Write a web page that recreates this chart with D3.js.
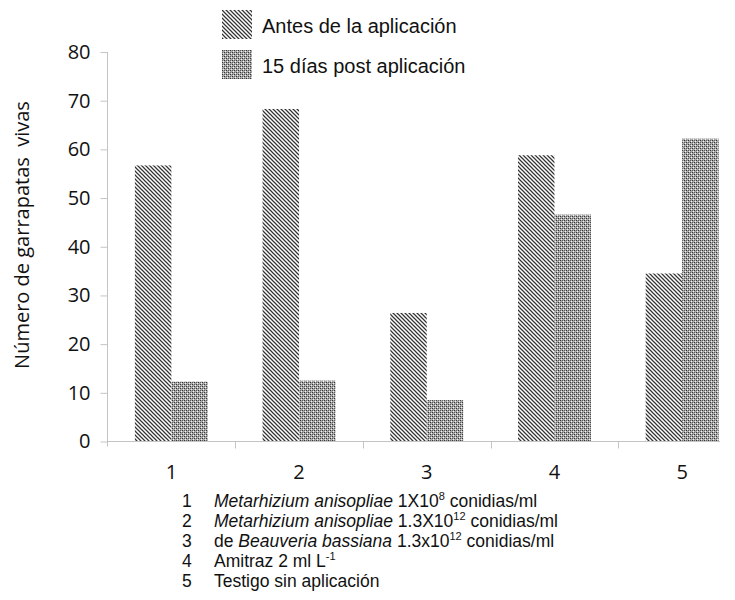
<!DOCTYPE html>
<html><head><meta charset="utf-8">
<script src="https://cdn.jsdelivr.net/npm/d3@7"></script>
<style>html,body{margin:0;padding:0;background:#fff;}svg{display:block;}</style>
</head><body>
<svg id="c" width="735" height="600"></svg>
<script>
const categories = ["1","2","3","4","5"];
const seriesNames = ["Antes de la aplicación","15 días post aplicación"];
const antes = [56.7, 68.3, 26.4, 58.8, 34.5];
const post15 = [12.3, 12.5, 8.5, 46.6, 62.2];
const yTicks = [0,10,20,30,40,50,60,70,80];
const yTitle = "Número de garrapatas  vivas";
const notes = [
  {n:"1", parts:[{t:"Metarhizium anisopliae",i:true},{t:" 1X10"},{t:"8",s:true},{t:" conidias/ml"}]},
  {n:"2", parts:[{t:"Metarhizium anisopliae",i:true},{t:" 1.3X10"},{t:"12",s:true},{t:" conidias/ml"}]},
  {n:"3", parts:[{t:"de "},{t:"Beauveria bassiana",i:true},{t:" 1.3x10"},{t:"12",s:true},{t:" conidias/ml"}]},
  {n:"4", parts:[{t:"Amitraz 2 ml L"},{t:"-1",s:true}]},
  {n:"5", parts:[{t:"Testigo sin aplicación"}]}
];

const svg = d3.select("#c");
const defs = svg.append("defs");
// hatch pattern
const ph = defs.append("pattern").attr("id","hatch").attr("patternUnits","userSpaceOnUse")
  .attr("width",4).attr("height",4);
ph.append("rect").attr("width",4).attr("height",4).attr("fill","#fff");
ph.append("path").attr("d","M-1,-1L5,5M3,-1L5,1M-1,3L1,5").attr("stroke","#333").attr("stroke-width",1.25);
// dotted pattern
const pd = defs.append("pattern").attr("id","dots").attr("patternUnits","userSpaceOnUse")
  .attr("width",4).attr("height",4);
pd.append("rect").attr("width",4).attr("height",4).attr("fill","#a9a9a9");
[[0,0],[2,2],[1,3],[3,1]].forEach((p,k)=>{
  pd.append("rect").attr("x",p[0]).attr("y",p[1]).attr("width",1).attr("height",1)
    .attr("fill", k<2 ? "#333" : "#f2f2f2");
});
pd.append("rect").attr("x",2).attr("y",0).attr("width",1).attr("height",1).attr("fill","#5e5e5e");
pd.append("rect").attr("x",0).attr("y",2).attr("width",1).attr("height",1).attr("fill","#5e5e5e");
const fills = ["url(#hatch)","url(#dots)"];

const x0 = d3.scaleBand().domain(categories).range([107.5, 746]).paddingInner(0).paddingOuter(0);
const x1 = d3.scaleBand().domain(seriesNames).range([0, x0.bandwidth()]).paddingInner(0).paddingOuter(0.75);
const y = d3.scaleLinear().domain([0,80]).range([441.5, 52]);

const data = categories.map((c,i)=>({c, vals:[antes[i], post15[i]]}));
const axisColor = "#c4c4c4";

// bars
const g = svg.append("g");
data.forEach(d=>{
  d.vals.forEach((v,k)=>{
    g.append("rect")
      .attr("x", x0(d.c)+x1(seriesNames[k]))
      .attr("y", y(v))
      .attr("width", x1.bandwidth())
      .attr("height", y(0)-y(v))
      .attr("fill", fills[k]);
  });
});

// y axis
const yAxis = d3.axisLeft(y).tickValues(yTicks).tickSize(7).tickPadding(10);
const ya = svg.append("g").attr("transform","translate(107.5,0)").call(yAxis);
ya.select(".domain").attr("stroke",axisColor).attr("d",`M0,${y(80)}V${y(0)+5}`);
ya.selectAll(".tick line").attr("stroke",axisColor);
ya.selectAll(".tick text").attr("font-family","'Open Sans', sans-serif").attr("font-size",20).attr("fill","#111");

// x axis line
svg.append("line").attr("x1",107.5).attr("x2",720).attr("y1",y(0)).attr("y2",y(0))
  .attr("stroke",axisColor).attr("stroke-width",1);
categories.slice(1).forEach(c=>{
  svg.append("line").attr("x1",Math.round(x0(c))+0.5).attr("x2",Math.round(x0(c))+0.5)
    .attr("y1",y(0)).attr("y2",y(0)+7).attr("stroke",axisColor);
});
categories.forEach(c=>{
  svg.append("text").attr("x",x0(c)+x0.bandwidth()/2).attr("y",479)
    .attr("text-anchor","middle").attr("font-family","'Open Sans', sans-serif")
    .attr("font-size",20).attr("fill","#111").text(c);
});

// y title
svg.append("text").attr("transform","translate(29,235) rotate(-90)")
  .attr("text-anchor","middle").attr("font-family","'Open Sans', sans-serif")
  .attr("font-size",20).attr("fill","#111").attr("xml:space","preserve").text(yTitle);

// legend
const legBase = [33, 73];
seriesNames.forEach((s,k)=>{
  svg.append("rect").attr("x",222).attr("y",legBase[k]-23).attr("width",30).attr("height",29).attr("fill",fills[k]);
  svg.append("text").attr("x",262).attr("y",legBase[k]).attr("font-family","'Liberation Sans', Arial, sans-serif")
    .attr("font-size",20).attr("fill","#111").attr("xml:space","preserve").text(s);
});

// notes
notes.forEach((nt,i)=>{
  const by = 507 + i*20;
  svg.append("text").attr("x",182).attr("y",by).attr("font-family","'Liberation Sans', Arial, sans-serif")
    .attr("font-size",17.5).attr("fill","#111").text(nt.n);
  const t = svg.append("text").attr("x",214).attr("y",by).attr("font-family","'Liberation Sans', Arial, sans-serif")
    .attr("font-size",17.5).attr("fill","#111").attr("xml:space","preserve");
  nt.parts.forEach((p,j)=>{
    const ts = t.append("tspan").text(p.t);
    if(p.i) ts.attr("font-style","italic");
    if(p.s) ts.attr("font-size",11).attr("dy",-7);
    else if(j>0 && nt.parts[j-1].s) ts.attr("dy",7);
  });
});
</script>
</body></html>
